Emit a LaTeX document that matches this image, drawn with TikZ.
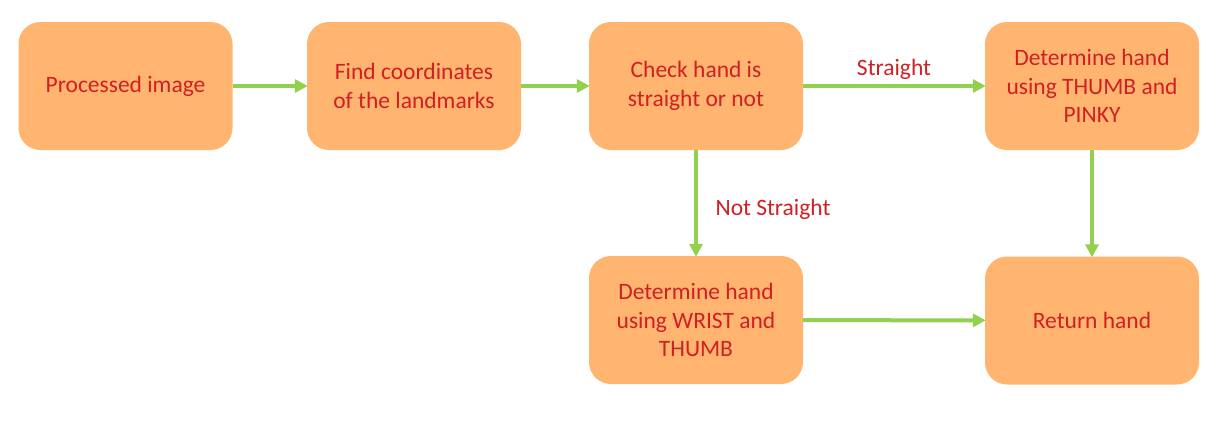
\documentclass[tikz,border=0pt]{standalone}
\usepackage{fontspec}
\setmainfont{Carlito}
\usetikzlibrary{arrows.meta,positioning}
\definecolor{boxfill}{RGB}{255,181,112}
\definecolor{boxtext}{RGB}{208,32,36}
\definecolor{flowgreen}{RGB}{146,208,80}
\tikzset{
    stepbox/.style={rectangle,rounded corners=22pt,fill=boxfill,text=boxtext,
        minimum width=214pt,minimum height=128pt,align=center,inner sep=0pt,
        font=\fontsize{23.5}{28.5}\selectfont},
    flow/.style={-{Triangle[length=13pt,width=13pt]},line width=4pt,flowgreen,shorten >=-1pt},
    branch label/.style={text=boxtext,font=\fontsize{23.5}{28}\selectfont},
}

\begin{document}
\begin{tikzpicture}[x=1pt,y=-1pt]
    \useasboundingbox (0,0) rectangle (1221,434);
    \node[stepbox] (image) at (125.5,86) {Processed image};
    \node[stepbox] (coords) at (414,86) {Find coordinates\\of the landmarks};
    \node[stepbox] (check) at (696,86) {Check hand is\\straight or not};
    \node[stepbox] (pinky) at (1092,86) {Determine hand\\using THUMB and\\PINKY};
    \node[stepbox] (wrist) at (696,320) {Determine hand\\using WRIST and\\THUMB};
    \node[stepbox] (result) at (1092,320.5) {Return hand};

    \draw[flow] (image) -- (coords);
    \draw[flow] (coords) -- (check);
    \draw[flow] (check) -- node[branch label,above=1pt] (straight) {Straight} (pinky);
    \draw[flow] (check) -- (wrist);
    \node[branch label] (notstraight) at (773,209) {Not Straight};
    \draw[flow] (pinky) -- (result);
    \draw[flow] (wrist) -- (result);
\end{tikzpicture}
\end{document}
